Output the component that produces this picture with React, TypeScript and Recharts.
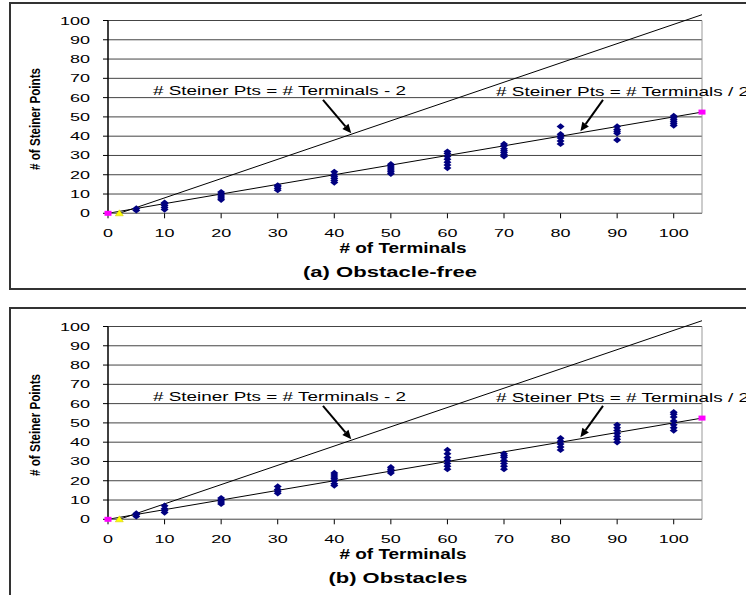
import React from "react"
import { ScatterChart, Scatter, XAxis, YAxis, CartesianGrid, ReferenceLine } from "recharts"

const FONT = '"Liberation Sans", Arial, sans-serif'

// number of terminals tested
const terminals = [5, 10, 20, 30, 40, 50, 60, 70, 80, 90, 100]

// steiner points found per run, one list per terminal count
const steinerFree = [
    [1.5, 2.5],
    [2, 3, 4, 5, 5.5],
    [7, 8, 9, 10, 11],
    [12, 13, 14, 14.5],
    [16, 17, 18, 19, 20, 21.5],
    [20.5, 21.5, 22.5, 23.5, 24.5, 25.5],
    [23.5, 25, 26.5, 28, 29.5, 31, 32],
    [29.5, 30.5, 31.5, 32.5, 33.5, 35, 36],
    [36, 37.5, 39, 40, 41, 45],
    [38, 41.5, 42.5, 43.5, 45],
    [45.5, 46.5, 47.5, 48.5, 49.5, 50.5],
]

const steinerObstacles = [
    [1.5, 2.5, 3],
    [3.5, 4.5, 5.5, 7],
    [8, 9, 10, 11],
    [13.5, 14.5, 15.5, 17],
    [17.5, 18.5, 20, 21, 22, 23, 24],
    [24, 25, 26, 27],
    [26, 27.5, 29, 30.5, 32, 34, 36],
    [26, 27.5, 29, 30.5, 32, 33, 34],
    [36, 37.5, 39, 40.5, 42],
    [40, 41.5, 43, 44.5, 46, 47.5, 49],
    [46, 47.5, 49, 51, 53, 54.5, 55.5],
]

const xTicks = [0, 10, 20, 30, 40, 50, 60, 70, 80, 90, 100]
const yTicks = [0, 10, 20, 30, 40, 50, 60, 70, 80, 90, 100]

// reference lines: steiner = terminals - 2, steiner = terminals / 2
const lineMinus2 = [{ x: 2, y: 0 }, { x: 105, y: 103 }]
const lineHalf = [{ x: 0, y: 0 }, { x: 105, y: 52.5 }]

// annotation arrows (data coords)
const arrowMinus2 = [{ x: 38, y: 58.8 }, { x: 43, y: 41.5 }]
const arrowHalf = [{ x: 87.5, y: 58.8 }, { x: 83.5, y: 42.5 }]

function XTick({ x, y, payload }: any) {
    const s = String(payload.value)
    return (
        <text x={x} y={y + 16.5} textAnchor="middle" fontSize={11.5} fontFamily={FONT} fill="#000"
            textLength={s.length * 10} lengthAdjust="spacingAndGlyphs">{s}</text>
    )
}

function YTick({ x, y, payload }: any) {
    const s = String(payload.value)
    return (
        <text x={x - 11} y={y + 4} textAnchor="end" fontSize={11.5} fontFamily={FONT} fill="#000"
            textLength={s.length * 10} lengthAdjust="spacingAndGlyphs">{s}</text>
    )
}

function DiamondShape({ cx, cy }: any) {
    return <polygon points={`${cx},${cy - 3.2} ${cx + 4},${cy} ${cx},${cy + 3.2} ${cx - 4},${cy}`} fill="#000080" />
}

function SquareShape({ cx, cy }: any) {
    return <rect x={cx - 3.5} y={cy - 2.5} width={7} height={5} fill="#ff00ff" />
}

function TriangleShape({ cx, cy }: any) {
    return <polygon points={`${cx},${cy - 3.5} ${cx + 4},${cy + 2.5} ${cx - 4},${cy + 2.5}`} fill="#ffff00" stroke="#c8c000" strokeWidth={0.5} />
}

function ArrowShape({ x1, y1, x2, y2 }: any) {
    const ang = Math.atan2(y2 - y1, x2 - x1)
    const len = 9
    const half = 4
    const bx = x2 - len * Math.cos(ang)
    const by = y2 - len * Math.sin(ang)
    const px = -Math.sin(ang) * half
    const py = Math.cos(ang) * half
    return (
        <g>
            <line x1={x1} y1={y1} x2={bx} y2={by} stroke="#000" strokeWidth={2} />
            <polygon points={`${x2},${y2} ${bx + px},${by + py} ${bx - px},${by - py}`} fill="#000" />
        </g>
    )
}

function Stretch({ x, y, w, size, bold, anchor, children, transform }: any) {
    return (
        <text x={x} y={y} textAnchor={anchor || "start"} fontSize={size} fontWeight={bold ? "bold" : "normal"}
            fontFamily={FONT} fill="#000" textLength={w} lengthAdjust="spacingAndGlyphs" transform={transform}>
            {children}
        </text>
    )
}

function Panel({ top, runs, title, titleX, titleW }: any) {
    const points = terminals.flatMap((t, i) => runs[i].map((v: number) => ({ x: t, y: v })))
    return (
        <div style={{ position: "absolute", left: 0, top, width: 746, height: 290 }}>
            <ScatterChart width={746} height={290} margin={{ top: 20.5, right: 44, bottom: 46.7, left: 48 }}>
                <CartesianGrid vertical={false} stroke="#444" />
                <XAxis type="number" dataKey="x" domain={[0, 105]} ticks={xTicks} interval={0} height={30}
                    tick={<XTick />} tickSize={5} axisLine={{ stroke: "#808080" }} tickLine={{ stroke: "#000" }} />
                <YAxis type="number" dataKey="y" domain={[0, 100]} ticks={yTicks} interval={0} width={60}
                    tick={<YTick />} tickSize={5} axisLine={{ stroke: "#000", strokeWidth: 1.5 }} tickLine={{ stroke: "#000" }} />
                <ReferenceLine x={105} stroke="#999" />
                <ReferenceLine segment={lineHalf} stroke="#000" ifOverflow="visible" />
                <ReferenceLine segment={lineMinus2} stroke="#000" ifOverflow="visible" />
                <ReferenceLine segment={arrowMinus2} shape={ArrowShape} ifOverflow="visible" />
                <ReferenceLine segment={arrowHalf} shape={ArrowShape} ifOverflow="visible" />
                <Scatter data={points} shape={DiamondShape} isAnimationActive={false} />
                <Scatter data={lineHalf} shape={SquareShape} isAnimationActive={false} />
                <Scatter data={[lineMinus2[0]]} shape={TriangleShape} isAnimationActive={false} />
            </ScatterChart>
            <svg width={746} height={290} style={{ position: "absolute", left: 0, top: 0, pointerEvents: "none", overflow: "visible" }}>
                <Stretch x={153} y={95} w={253} size={12.5}># Steiner Pts = # Terminals - 2</Stretch>
                <Stretch x={496} y={96} w={253} size={12.5}># Steiner Pts = # Terminals / 2</Stretch>
                <Stretch x={0} y={0} w={102} size={14} bold anchor="middle" transform="translate(40,119) rotate(-90)"># of Steiner Points</Stretch>
                <Stretch x={403} y={253} w={127} size={14} bold anchor="middle"># of Terminals</Stretch>
                <Stretch x={titleX} y={277} w={titleW} size={15} bold anchor="middle">{title}</Stretch>
            </svg>
        </div>
    )
}

export default function App() {
    return (
        <div style={{ position: "absolute", left: 0, top: 0, width: 746, height: 595, overflow: "hidden", background: "#fff" }}>
            <div style={{ position: "absolute", left: 9, top: 2, width: 800, height: 284, border: "2px solid #333" }} />
            <div style={{ position: "absolute", left: 9, top: 307, width: 800, height: 400, border: "2px solid #333" }} />
            <Panel top={0} runs={steinerFree} title="(a) Obstacle-free" titleX={390} titleW={174} />
            <Panel top={306} runs={steinerObstacles} title="(b) Obstacles" titleX={398} titleW={139} />
        </div>
    )
}
